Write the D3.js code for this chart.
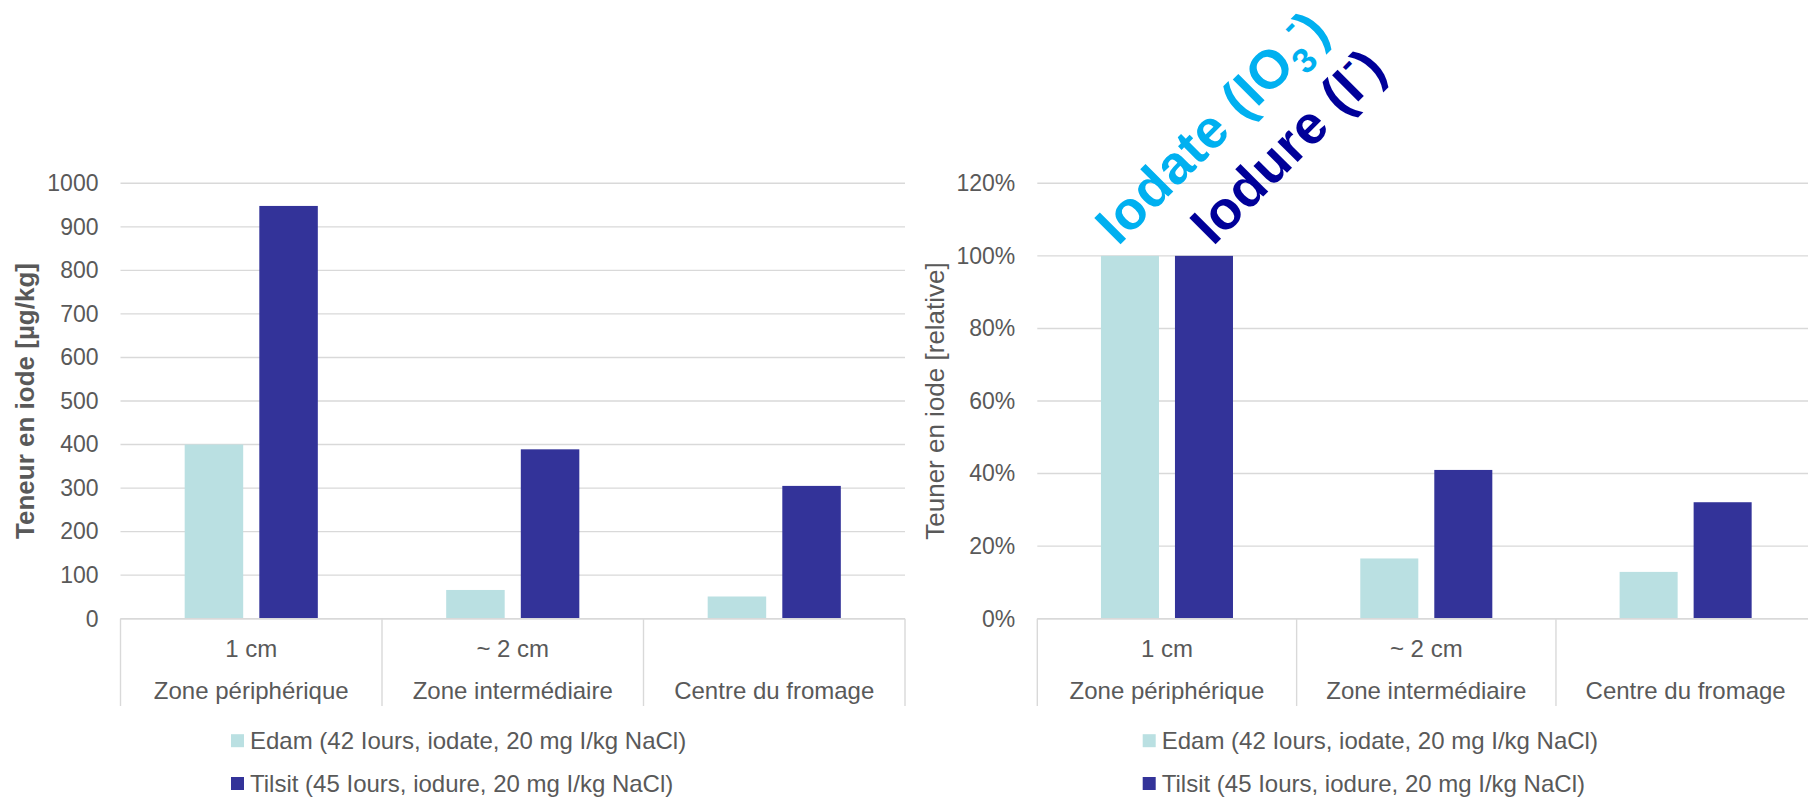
<!DOCTYPE html>
<html lang="fr">
<head>
<meta charset="utf-8">
<script src="https://cdn.jsdelivr.net/npm/d3@7"></script>
<style>
  html, body { margin: 0; padding: 0; background: #fff; }
  svg { display: block; font-family: "Liberation Sans", Arial, sans-serif; }
</style>
</head>
<body>
<svg id="chart" width="1808" height="797"></svg>
<script>
// Teneur en iode de fromages selon la zone de prélèvement
const zones = ["Zone périphérique", "Zone intermédiaire", "Centre du fromage"];
const depths = ["1 cm", "~ 2 cm", ""];
const seriesKeys = ["edam", "tilsit"];
const seriesNames = [
  "Edam (42 Iours, iodate, 20 mg I/kg NaCl)",
  "Tilsit (45 Iours, iodure, 20 mg I/kg NaCl)"
];
const seriesColors = ["#BAE0E2", "#333399"];

// absolute content, µg/kg
const edamAbs = [400, 66, 51];
const tilsitAbs = [948, 389, 305];
// relative content (share of the peripheral zone)
const edamRel = [1.00, 0.166, 0.129];
const tilsitRel = [1.00, 0.410, 0.321];

const absTicks = [0, 100, 200, 300, 400, 500, 600, 700, 800, 900, 1000];
const relTicks = [0, 0.2, 0.4, 0.6, 0.8, 1.0, 1.2];

const ionLabels = ["Iodate", "Iodure"];
const ionColors = ["#00B0F0", "#000099"];

const textGrey = "#595959";
const gridGrey = "#D9D9D9";

const svg = d3.select("#chart");

function drawPanel(cfg) {
  const g = svg.append("g");
  const y = d3.scaleLinear().domain(cfg.domain).range([cfg.yBottom, cfg.yTop]);
  const x = d3.scaleBand().domain(zones).range([cfg.x0, cfg.x1]).paddingInner(0).paddingOuter(0);
  const xs = d3.scaleBand().domain(seriesKeys).range([0, x.bandwidth()])
    .paddingInner(0.216).paddingOuter(0.86);

  // horizontal gridlines
  g.append("g").selectAll("line").data(cfg.ticks).join("line")
    .attr("x1", cfg.x0).attr("x2", cfg.x1)
    .attr("y1", d => y(d)).attr("y2", d => y(d))
    .attr("stroke", gridGrey).attr("stroke-width", 1.4);

  // value axis labels
  const yAxis = d3.axisLeft(y).tickValues(cfg.ticks).tickFormat(cfg.format)
    .tickSize(0).tickPadding(22);
  const ya = g.append("g").attr("transform", `translate(${cfg.x0},0)`).call(yAxis);
  ya.select(".domain").remove();
  ya.selectAll("text").attr("fill", textGrey).style("font-size", "23px")
    .style("font-family", '"Liberation Sans", Arial, sans-serif');

  // bars
  const rows = zones.map((z, i) => ({ zone: z, edam: cfg.edam[i], tilsit: cfg.tilsit[i] }));
  seriesKeys.forEach((k, si) => {
    g.append("g").selectAll("rect").data(rows).join("rect")
      .attr("x", d => x(d.zone) + xs(k))
      .attr("width", xs.bandwidth())
      .attr("y", d => y(d[k]))
      .attr("height", d => y(0) - y(d[k]))
      .attr("fill", seriesColors[si]);
  });

  // category axis: baseline and separators
  g.append("line")
    .attr("x1", cfg.x0).attr("x2", cfg.x1)
    .attr("y1", y(0)).attr("y2", y(0))
    .attr("stroke", gridGrey).attr("stroke-width", 1.4);
  const bounds = zones.map(z => x(z)).concat([cfg.x1]);
  g.append("g").selectAll("line").data(bounds).join("line")
    .attr("x1", d => d).attr("x2", d => d)
    .attr("y1", y(0)).attr("y2", 706)
    .attr("stroke", gridGrey).attr("stroke-width", 1.4);

  g.append("g").selectAll("text").data(zones).join("text")
    .attr("x", d => x(d) + x.bandwidth() / 2)
    .attr("y", 656.5)
    .attr("text-anchor", "middle").attr("fill", textGrey)
    .style("font-size", "24px")
    .text((d, i) => depths[i]);
  g.append("g").selectAll("text").data(zones).join("text")
    .attr("x", d => x(d) + x.bandwidth() / 2)
    .attr("y", 699.3)
    .attr("text-anchor", "middle").attr("fill", textGrey)
    .style("font-size", "24px")
    .text(d => d);

  // value axis title
  g.append("text")
    .attr("transform", `translate(${cfg.titleX},${(cfg.yTop + cfg.yBottom) / 2}) rotate(-90)`)
    .attr("text-anchor", "middle").attr("dy", "0.35em")
    .attr("fill", textGrey)
    .style("font-size", "26px")
    .style("font-weight", cfg.titleBold ? "bold" : "normal")
    .text(cfg.title);

  // legend
  const lg = g.append("g").attr("transform", `translate(${cfg.legendX},0)`);
  seriesNames.forEach((name, i) => {
    const cy = [740.7, 783.5][i];
    lg.append("rect").attr("x", 0).attr("y", cy - 6.5).attr("width", 13).attr("height", 13)
      .attr("fill", seriesColors[i]);
    lg.append("text").attr("x", 19).attr("y", cy).attr("dy", "0.35em")
      .attr("fill", textGrey).style("font-size", "24px").text(name);
  });

  return { x, xs, y, g };
}

drawPanel({
  x0: 120.5, x1: 905, yTop: 183.3, yBottom: 618.7,
  domain: [0, 1000], ticks: absTicks, format: d3.format("d"),
  edam: edamAbs, tilsit: tilsitAbs,
  title: "Teneur en iode [µg/kg]", titleBold: true, titleX: 25,
  legendX: 231
});

const right = drawPanel({
  x0: 1037.3, x1: 1815.3, yTop: 183.3, yBottom: 618.7,
  domain: [0, 1.2], ticks: relTicks, format: d3.format(".0%"),
  edam: edamRel, tilsit: tilsitRel,
  title: "Teuner en iode [relative]", titleBold: false, titleX: 935,
  legendX: 1142.7
});

// ion annotations above the peripheral-zone bars
const z0 = zones[0];
const fs = 54;
const yAnchor = right.y(edamRel[0]) - 9;
const iodateX = right.x(z0) + right.xs("edam") + right.xs.bandwidth() / 2 - 12;
const iodureX = right.x(z0) + right.xs("tilsit") + right.xs.bandwidth() / 2 + 9;

const t1 = svg.append("text")
  .attr("transform", `translate(${iodateX},${yAnchor}) rotate(-45)`)
  .attr("fill", ionColors[0]).style("font-size", fs + "px").style("font-weight", "bold")
  .style("letter-spacing", "0.5px");
t1.append("tspan").text(ionLabels[0] + " (IO");
t1.append("tspan").style("font-size", "35px").attr("dy", 12).text("3");
t1.append("tspan").style("font-size", "35px").attr("dy", -36).attr("dx", -3).text("-");
t1.append("tspan").attr("dy", 24).text(")");

const t2 = svg.append("text")
  .attr("transform", `translate(${iodureX},${yAnchor}) rotate(-45)`)
  .attr("fill", ionColors[1]).style("font-size", fs + "px").style("font-weight", "bold")
  .style("letter-spacing", "0.5px");
t2.append("tspan").text(ionLabels[1] + " (I");
t2.append("tspan").style("font-size", "35px").attr("dy", -24).text("-");
t2.append("tspan").attr("dy", 24).text(")");
</script>
</body>
</html>
